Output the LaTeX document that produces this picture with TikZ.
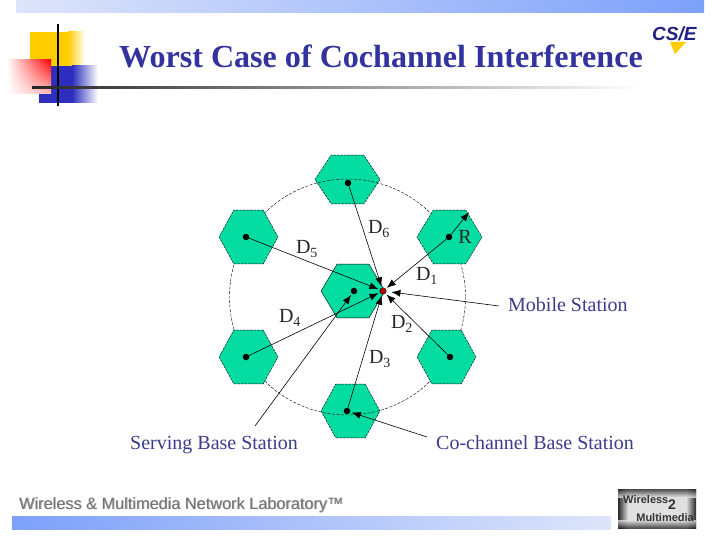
\documentclass[tikz,border=0pt]{standalone}
\usepackage{fontspec}
\setmainfont{Liberation Serif}
\setsansfont{Liberation Sans}
\usepackage{xcolor}
\usetikzlibrary{arrows.meta,shapes.geometric,shadings}
\definecolor{cellgreen}{RGB}{5,220,162}
\definecolor{titleblue}{RGB}{51,51,160}
\definecolor{labelblue}{RGB}{60,60,140}
\definecolor{barlight}{RGB}{222,229,250}
\definecolor{bardark}{RGB}{125,160,250}
\definecolor{logoyellow}{RGB}{255,204,0}
\definecolor{logoblue}{RGB}{45,45,190}
\begin{document}
\begin{tikzpicture}[x=1pt,y=-1pt,>={Latex[length=9pt,width=7pt]},
 cell/.style={regular polygon,regular polygon sides=6,draw=black,dash pattern=on 2.5pt off 1pt,fill=cellgreen,minimum size=62pt,inner sep=0pt,transform shape},
 site/.style={circle,fill=black,minimum size=6.5pt,inner sep=0pt},
 mobile/.style={circle,draw=black,fill=red!75!black,minimum size=6.5pt,inner sep=0pt},
 dist/.style={font=\fontsize{20}{22}\selectfont,text=black!85,inner sep=0pt},
 callout/.style={anchor=base west,font=\fontsize{20}{22}\selectfont,text=labelblue,inner sep=0pt},
 line/.style={->,semithick,shorten >=1.5pt}]
\useasboundingbox (0,0) rectangle (720,540);
% header and footer bars
\shade[left color=barlight,right color=bardark] (16,0) rectangle (704,13);
\shade[left color=bardark,right color=barlight] (12,516) rectangle (611,529);
% corner squares
\fill[logoyellow] (30,32) rectangle (68,86);
\shade[left color=logoyellow,right color=white] (68,32) rectangle (85,86);
\fill[logoblue] (39,66) rectangle (72,103);
\shade[left color=logoblue,right color=white] (72,66) rectangle (98,103);
\shade[upper right=red,upper left=white,lower right=red!25,lower left=white] (7,60) rectangle (51,94);
\draw[black,line width=1.5pt] (58,24)--(58,106);
\shade[left color=black!85,right color=white] (32,87) rectangle (640,89);
\node[anchor=west,inner sep=0pt,text=titleblue,font=\fontsize{32.1}{34}\selectfont\bfseries] (title) at (119,56) {Worst Case of Cochannel Interference};
% csie logo
\fill[logoyellow] (670,42)--(686,42)--(675,54)--cycle;
\node[anchor=west,inner sep=0pt,text=logoblue!70!black,font=\fontsize{19}{21}\selectfont\sffamily\bfseries\itshape] (csie) at (652,34) {CS/E};
% cells
\node[cell,xscale=1.05,yscale=.91] (c6) at (347.5,179.5) {};
\node[cell,xscale=.95] (c3) at (350.5,411) {};
\draw[dash pattern=on 3pt off 1.5pt] (347.5,297) circle (118);
\node[cell,xscale=.95] (c5) at (248.5,237) {};
\node[cell,xscale=1.05] (c1) at (449.5,237) {};
\node[cell,xscale=.95] (c4) at (248.5,357) {};
\node[cell,xscale=.95] (c2) at (446.5,357) {};
\node[cell,solid,xscale=1.03] (c0) at (353,291) {};
% base stations
\node[site] (s0) at (354,291) {};
\node[site] (s1) at (449,237) {};
\node[site] (s2) at (450,357) {};
\node[site] (s3) at (347,411) {};
\node[site] (s4) at (246,357) {};
\node[site] (s5) at (246,237) {};
\node[site] (s6) at (348,183) {};
\node[mobile] (ms) at (383,291) {};
\coordinate (rtip) at (470,211);
% labels
\node[dist] (d1) at (427,276) {D\textsubscript{1}};
\node[dist] (d2) at (402,324) {D\textsubscript{2}};
\node[dist] (d3) at (380,359) {D\textsubscript{3}};
\node[dist] (d4) at (290,318) {D\textsubscript{4}};
\node[dist] (d5) at (307,249) {D\textsubscript{5}};
\node[dist] (d6) at (379,229) {D\textsubscript{6}};
\node[dist] (rr) at (465,237) {R};
\node[callout] (mstext) at (508,311) {Mobile Station};
\node[callout] (sbtext) at (130,449) {Serving Base Station};
\node[callout] (cbtext) at (436,449) {Co-channel Base Station};
\coordinate (msfrom) at (499,306);
\coordinate (sbfrom) at (255,426);
\coordinate (cbfrom) at (427,437);
% distances
\draw[line] (s1)--(ms);
\draw[line] (s2)--(ms);
\draw[line] (s3)--(ms);
\draw[line] (s4)--(ms);
\draw[line] (s5)--(ms);
\draw[line] (s6)--(ms);
\draw[line] (s1)--(rtip);
% callouts
\draw[line,shorten >=5pt] (msfrom)--(ms);
\draw[line] (sbfrom)--(s0);
\draw[line] (cbfrom)--(s3);
% footer
\node[anchor=base west,inner sep=0pt,text=black!30,font=\fontsize{16.3}{18}\selectfont\sffamily] (labshade) at (19.8,509.8) {Wireless \& Multimedia Network Laboratory™};
\node[anchor=base west,inner sep=0pt,text=black!55,font=\fontsize{16.3}{18}\selectfont\sffamily] (lab) at (19,509) {Wireless \& Multimedia Network Laboratory™};
% lab logo
\fill[black!12] (618,489) rectangle (696,528);
\shade[left color=black!85,right color=black!12] (618,489) rectangle (628,528);
\shade[left color=black!12,right color=black!85] (686,489) rectangle (696,528);
\shade[top color=black!85,bottom color=black!12,opacity=.8] (618,489) rectangle (696,497);
\shade[top color=black!12,bottom color=black!85,opacity=.8] (618,520) rectangle (696,528);
\node[anchor=west,inner sep=0pt,font=\fontsize{11}{12}\selectfont\sffamily\bfseries,text=black!80] (wl) at (623,500) {Wireless};
\node[anchor=west,inner sep=0pt,font=\fontsize{14}{14}\selectfont\sffamily\bfseries,text=black!80] (two) at (668,505) {2};
\node[anchor=east,inner sep=0pt,font=\fontsize{11}{12}\selectfont\sffamily\bfseries,text=black!80] (mm) at (694,518) {Multimedia};
\end{tikzpicture}
\end{document}
